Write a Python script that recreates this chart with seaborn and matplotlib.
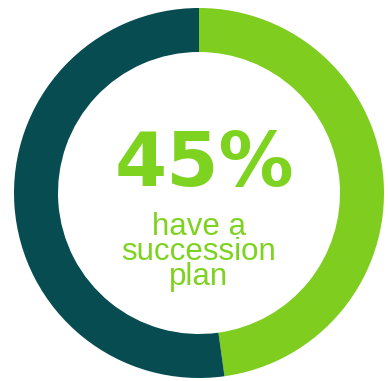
import matplotlib
matplotlib.use("Agg")
import matplotlib.pyplot as plt
import seaborn as sns

# Data
labels = ["Have a succession plan", "No succession plan"]
values = [47.8, 52.2]
colors = ["#7ecd1f", "#064c50"]
headline = "45%"
caption_lines = ["have a", "succession", "plan"]

sns.set_theme(style="white")
plt.rcParams["font.family"] = ["Liberation Sans", "DejaVu Sans"]

fig = plt.figure(figsize=(3.88, 3.81), dpi=100)
ax = fig.add_axes([0, 0, 1, 1])
ax.set_xlim(0, 388)
ax.set_ylim(0, 381)
ax.set_aspect("equal")
ax.axis("off")

ax.pie(values, colors=colors, startangle=90, counterclock=False,
       radius=185, center=(199, 188),
       wedgeprops=dict(width=44, edgecolor="none", linewidth=0))
ax.set_xlim(0, 388)
ax.set_ylim(0, 381)

text_color = "#7ed321"
ax.text(204, 381 - 186, headline, ha="center", va="baseline",
        fontsize=54, fontweight="bold", color=text_color,
        family=["DejaVu Sans"])
ax.text(199, 381 - 285, "\n".join(caption_lines), ha="center", va="baseline",
        fontsize=22.5, color=text_color, linespacing=0.78,
        multialignment="center")

fig.savefig("out.png", dpi=100)
